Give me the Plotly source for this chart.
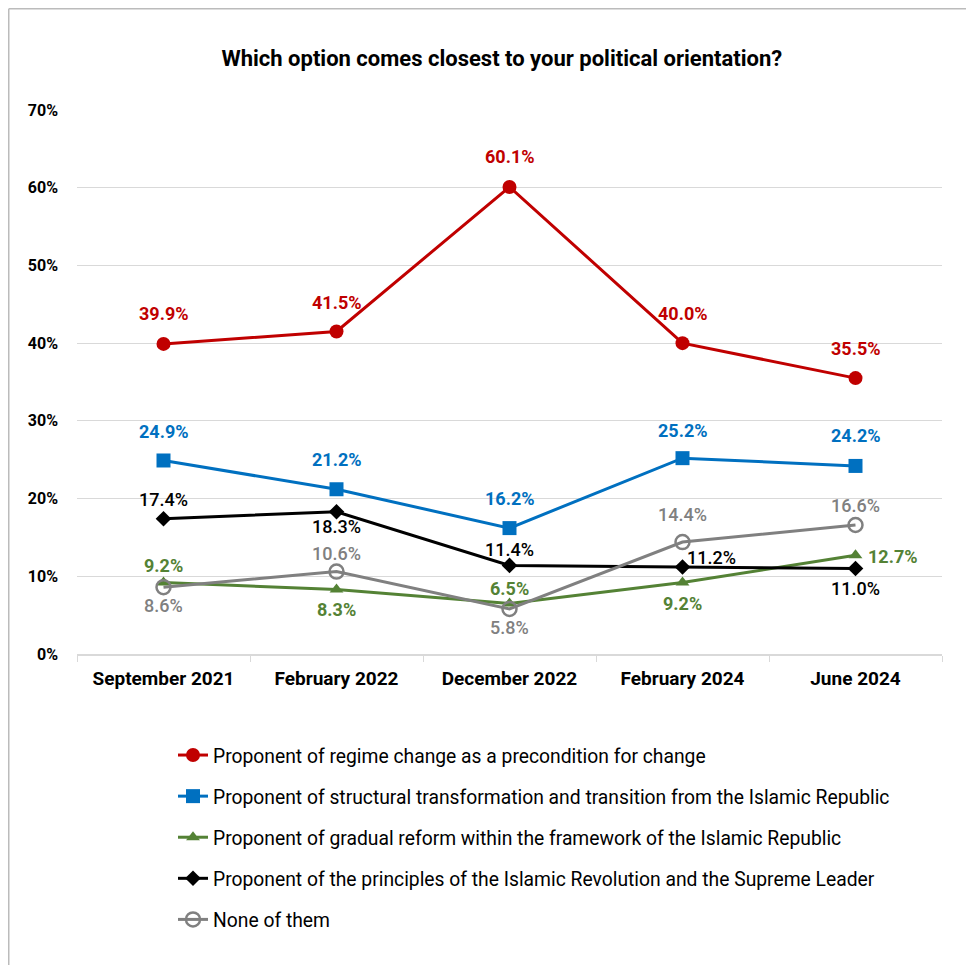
import plotly.graph_objects as go

# ---- data ----
categories = ["September 2021", "February 2022", "December 2022", "February 2024", "June 2024"]
regime_change = [39.9, 41.5, 60.1, 40.0, 35.5]
structural = [24.9, 21.2, 16.2, 25.2, 24.2]
gradual_reform = [9.2, 8.3, 6.5, 9.2, 12.7]
revolution_principles = [17.4, 18.3, 11.4, 11.2, 11.0]
none_of_them = [8.6, 10.6, 5.8, 14.4, 16.6]
series_names = [
    "Proponent of regime change as a precondition for change",
    "Proponent of structural transformation and transition from the Islamic Republic",
    "Proponent of gradual reform within the framework of the Islamic Republic",
    "Proponent of the principles of the Islamic Revolution and the Supreme Leader",
    "None of them",
]
y_tick_values = [0, 10, 20, 30, 40, 50, 60, 70]
y_tick_labels = ["0%", "10%", "20%", "30%", "40%", "50%", "60%", "70%"]
title_text = "Which option comes closest to your political orientation?"

# ---- styles / layout ----
W, H = 974, 965
OFF = 8  # page body margin offset of the rendered figure
# desired plot area in screen px: left 77, right 942, top 110, bottom 654
ML, MR, MT, MB = 77 - OFF, W - (942 - OFF), 110 - OFF, H - (654 - OFF)
FONT = "Roboto, Arial, sans-serif"

styles = [
    dict(color="#C00000", symbol="circle", size=14, weight="bold"),
    dict(color="#0070C0", symbol="square", size=14, weight="bold"),
    dict(color="#548235", symbol="triangle-up", size=12, weight="bold"),
    dict(color="#000000", symbol="diamond", size=12, weight=500),
    dict(color="#808080", symbol="circle-open", size=14, weight=500),
]
# label offsets (xshift, yshift) in pixels per series/point
label_offsets = [
    [(0, 30), (0, 29), (0, 30), (0, 30), (0, 30)],
    [(0, 29), (0, 30), (0, 30), (0, 28), (0, 30)],
    [(0, 17), (0, -20), (0, 15), (0, -21), (37, -1)],
    [(0, 19), (0, -15), (0, 16), (29, 9), (0, -20)],
    [(0, -18), (0, 18), (0, -19), (0, 28), (0, 19)],
]

all_series = [regime_change, structural, gradual_reform, revolution_principles, none_of_them]

fig = go.Figure()
for i, (name, vals, st) in enumerate(zip(series_names, all_series, styles)):
    marker = dict(symbol=st["symbol"], size=st["size"], color=st["color"])
    if st["symbol"] == "circle-open":
        marker["line"] = dict(width=2.5, color=st["color"])
    fig.add_trace(go.Scatter(
        x=categories, y=vals, name=name, mode="lines+markers",
        line=dict(color=st["color"], width=3),
        marker=marker, legendgroup=f"g{i}",
    ))

annotations = []
for i, (vals, st) in enumerate(zip(all_series, styles)):
    for j, v in enumerate(vals):
        dx, dy = label_offsets[i][j]
        annotations.append(dict(
            x=categories[j], y=v, xref="x", yref="y",
            text=f"{v:.1f}%", showarrow=False,
            xanchor="center", yanchor="middle",
            xshift=dx, yshift=dy,
            font=dict(family=FONT, size=18, color=st["color"], weight=st["weight"]),
        ))

pw = W - ML - MR
ph = H - MT - MB
def px_to_paper_x(sx):
    # screen px -> paper fraction
    return (sx - OFF - ML) / pw
def px_to_paper_y(sy):
    return (H - MB - (sy - OFF)) / ph

# border (top and left lines only, as in the cropped reference)
bx = px_to_paper_x(OFF + 0.75)
by = px_to_paper_y(OFF + 0.75)
shapes = [
    dict(type="line", xref="paper", yref="paper",
         x0=bx, x1=px_to_paper_x(W + OFF + 5), y0=by, y1=by,
         line=dict(color="#BBBBBB", width=1.5)),
    dict(type="line", xref="paper", yref="paper",
         x0=bx, x1=bx, y0=by, y1=px_to_paper_y(H + OFF + 5),
         line=dict(color="#BBBBBB", width=1.5)),
]

fig.update_layout(
    width=W, height=H,
    margin=dict(l=ML, r=MR, t=MT, b=MB, autoexpand=False),
    paper_bgcolor="white", plot_bgcolor="white",
    font=dict(family=FONT, color="#000000"),
    title=dict(text=f"<b>{title_text}</b>", x=0.507, xref="container", xanchor="center",
               y=1 - 50 / H, yref="container", yanchor="middle",
               font=dict(family=FONT, size=22, color="#000000")),
    showlegend=True,
    legend=dict(
        x=px_to_paper_x(173), xanchor="left",
        y=px_to_paper_y(736), yanchor="top",
        font=dict(family=FONT, size=19.3, color="#000000"),
        tracegroupgap=13, bgcolor="rgba(0,0,0,0)",
    ),
    annotations=annotations,
    shapes=shapes,
    xaxis=dict(
        type="category", range=[-0.5, 4.5],
        showgrid=False, showline=True, linecolor="#D9D9D9", linewidth=1.5,
        ticks="outside", tickson="boundaries", ticklen=6, tickcolor="#D9D9D9",
        tickfont=dict(family=FONT, size=19, color="#000000", weight="bold"),
        ticklabelstandoff=6,
    ),
    yaxis=dict(
        range=[0, 70], tickvals=y_tick_values, ticktext=y_tick_labels,
        showgrid=True, gridcolor="#D9D9D9", gridwidth=1.2,
        zeroline=False, showline=False, ticks="",
        tickfont=dict(family=FONT, size=16, color="#000000", weight="bold"),
        ticklabelstandoff=18,
    ),
)

fig.write_html("out.html")
